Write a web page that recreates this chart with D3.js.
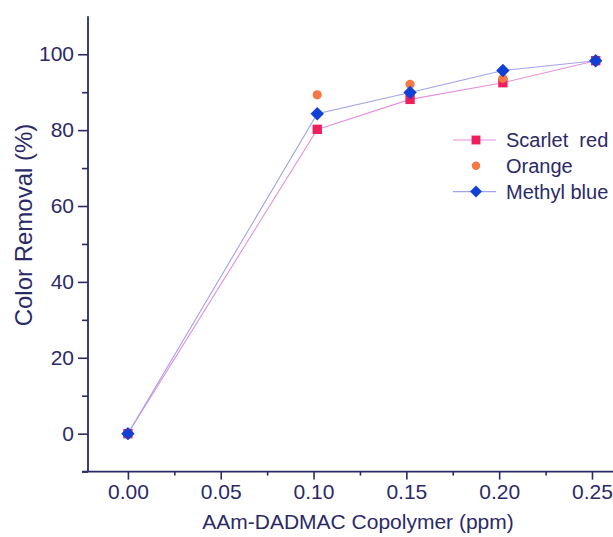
<!DOCTYPE html>
<html>
<head>
<meta charset="utf-8">
<script src="https://cdn.jsdelivr.net/npm/d3@7"></script>
<style>
  body { margin: 0; background: #fff; }
  text { font-family: "Liberation Sans", Arial, sans-serif; fill: #2b2a66; }
</style>
</head>
<body>
<svg id="chart" width="613" height="537"></svg>
<script>
var dose = [0, 0.102, 0.152, 0.202, 0.252];
var scarletRed = [0, 80.2, 88.1, 92.5, 98.3];
var orange = [0, 89.3, 92.1, 93.7, 98.3];
var methylBlue = [0, 84.3, 89.9, 95.7, 98.3];
var xTickValues = [0, 0.05, 0.10, 0.15, 0.20, 0.25];
var yTickValues = [0, 20, 40, 60, 80, 100];
var seriesNames = ['Scarlet  red', 'Orange', 'Methyl blue'];

var axisColor = '#2b2a66';
var svg = d3.select('#chart');

// pixel frame
var x = d3.scaleLinear().domain([-0.0215, 0.3]).range([88, 126.8 + 0.3 / 0.05 * 93]);
var y = d3.scaleLinear().domain([-10, 110]).range([471.6, 16.3]);

// y axis
var yAxis = svg.append('g').attr('transform', 'translate(88,0)');
yAxis.call(d3.axisLeft(y).tickValues(yTickValues).tickSize(10).tickPadding(4)
  .tickFormat(d3.format('d')));
yAxis.append('g').call(d3.axisLeft(y).tickValues(d3.range(-10, 110, 20)).tickSize(6).tickFormat(''));
yAxis.selectAll('.domain').remove();
yAxis.append('line').attr('x1', 0).attr('x2', 0).attr('y1', y(-10)).attr('y2', y(110));

// x axis
var xAxis = svg.append('g').attr('transform', 'translate(0,' + y(-10) + ')');
xAxis.call(d3.axisBottom(x).tickValues(xTickValues).tickSize(8).tickPadding(4)
  .tickFormat(d3.format('.2f')));
xAxis.append('g').call(d3.axisBottom(x).tickValues(d3.range(0.025, 0.3, 0.05)).tickSize(4).tickFormat(''));
xAxis.selectAll('.domain').remove();
xAxis.append('line').attr('x1', 82).attr('x2', 613).attr('y1', 0).attr('y2', 0);

svg.selectAll('.tick line').attr('stroke', axisColor).attr('stroke-width', 1.6);
svg.selectAll('g line').filter(function() { return !this.parentNode.classList.contains('tick'); })
  .attr('stroke', axisColor).attr('stroke-width', 1.8);
svg.selectAll('.tick text').style('font-size', '21px').attr('fill', axisColor);

// titles
svg.append('text').attr('x', 358).attr('y', 529).attr('text-anchor', 'middle')
  .style('font-size', '21px').text('AAm-DADMAC Copolymer (ppm)');
svg.append('text').attr('transform', 'translate(32,225) rotate(-90)').attr('text-anchor', 'middle')
  .style('font-size', '24px').text('Color Removal (%)');

var line = d3.line().x(function(d) { return x(d[0]); }).y(function(d) { return y(d[1]); });
function pairs(vals) { return dose.map(function(d, i) { return [d, vals[i]]; }); }

svg.append('path').datum(pairs(scarletRed)).attr('d', line)
  .attr('fill', 'none').attr('stroke', '#e590dc').attr('stroke-width', 1.1);
svg.append('path').datum(pairs(methylBlue)).attr('d', line)
  .attr('fill', 'none').attr('stroke', '#a2a2ea').attr('stroke-width', 1.1);

var square = d3.symbol().type(d3.symbolSquare).size(88);
var circle = d3.symbol().type(d3.symbolCircle).size(66);
var diamond = d3.symbol().type(d3.symbolSquare).size(90);

function place(rot) {
  return function(d) { return 'translate(' + x(d[0]) + ',' + y(d[1]) + ')' + (rot ? ' rotate(45)' : ''); };
}

svg.selectAll('.sr').data(pairs(scarletRed)).enter().append('path')
  .attr('d', square).attr('fill', '#ee1f5c').attr('transform', place(false));
svg.selectAll('.or').data(pairs(orange)).enter().append('path')
  .attr('d', circle).attr('fill', '#f47a45').attr('transform', place(false));
svg.selectAll('.mb').data(pairs(methylBlue)).enter().append('path')
  .attr('d', diamond).attr('fill', '#1140d4').attr('transform', place(true));

// legend
var legend = svg.append('g').attr('transform', 'translate(453,140)');
var legendStyle = [
  {sym: d3.symbol().type(d3.symbolSquare).size(78), fill: '#ee1f5c', line: '#e590dc', rot: ''},
  {sym: d3.symbol().type(d3.symbolCircle).size(56), fill: '#f47a45', line: null, rot: ''},
  {sym: d3.symbol().type(d3.symbolSquare).size(72), fill: '#1140d4', line: '#a2a2ea', rot: ' rotate(45)'}
];
seriesNames.forEach(function(name, i) {
  var row = legend.append('g').attr('transform', 'translate(0,' + (i * 25.8) + ')');
  if (legendStyle[i].line) {
    row.append('line').attr('x1', 0).attr('x2', 43).attr('y1', 0).attr('y2', 0)
      .attr('stroke', legendStyle[i].line).attr('stroke-width', 1.1);
  }
  row.append('path').attr('d', legendStyle[i].sym).attr('fill', legendStyle[i].fill)
    .attr('transform', 'translate(23,0)' + legendStyle[i].rot);
  row.append('text').attr('x', 53).attr('y', 7).style('font-size', '20px')
    .style('white-space', 'pre').attr('xml:space', 'preserve').text(name);
});
</script>
</body>
</html>
